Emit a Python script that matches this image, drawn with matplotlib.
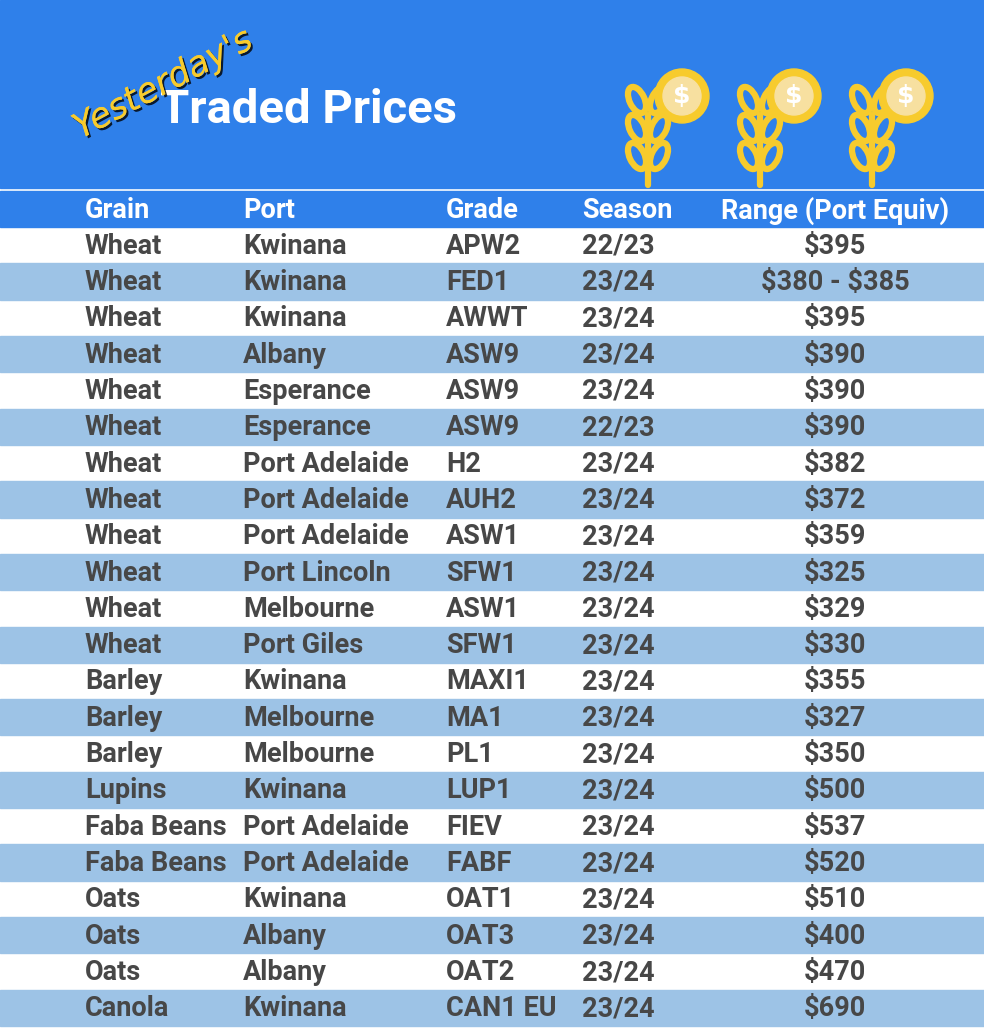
import matplotlib
matplotlib.use("Agg")
import matplotlib.pyplot as plt
from matplotlib.patches import Rectangle, Circle, Ellipse
import matplotlib.patheffects as pe

grain = ["Wheat"]*12 + ["Barley"]*3 + ["Lupins", "Faba Beans", "Faba Beans", "Oats", "Oats", "Oats", "Canola"]
port = ["Kwinana", "Kwinana", "Kwinana", "Albany", "Esperance", "Esperance", "Port Adelaide", "Port Adelaide",
        "Port Adelaide", "Port Lincoln", "Melbourne", "Port Giles", "Kwinana", "Melbourne", "Melbourne",
        "Kwinana", "Port Adelaide", "Port Adelaide", "Kwinana", "Albany", "Albany", "Kwinana"]
grade = ["APW2", "FED1", "AWWT", "ASW9", "ASW9", "ASW9", "H2", "AUH2", "ASW1", "SFW1", "ASW1", "SFW1",
         "MAXI1", "MA1", "PL1", "LUP1", "FIEV", "FABF", "OAT1", "OAT3", "OAT2", "CAN1 EU"]
season = ["22/23", "23/24", "23/24", "23/24", "23/24", "22/23"] + ["23/24"]*16
price = ["$395", "$380 - $385", "$395", "$390", "$390", "$390", "$382", "$372", "$359", "$325", "$329",
         "$330", "$355", "$327", "$350", "$500", "$537", "$520", "$510", "$400", "$470", "$690"]
headers = ["Grain", "Port", "Grade", "Season", "Range (Port Equiv)"]

plt.rcParams["text.parse_math"] = False
W, H = 984, 1028
fig = plt.figure(figsize=(W/100, H/100), dpi=100)
ax = fig.add_axes([0, 0, 1, 1])
ax.set_xlim(0, W); ax.set_ylim(H, 0); ax.axis("off")

BLUE = "#2F80EA"; LIGHT = "#9DC3E6"; TXT = "#474747"; YEL = "#F7CB2D"
ax.add_patch(Rectangle((0, 0), W, 188, color=BLUE))
ax.add_patch(Rectangle((0, 191), W, 36, color=BLUE))
colx = [85, 243, 446, 582]
fp = dict(family="Roboto", weight="bold", fontsize=19.5)
for i, h in enumerate(headers):
    if i < 4:
        ax.text(colx[i], 211, h, color="white", va="center", ha="left", **fp)
    else:
        ax.text(835, 211, h, color="white", va="center", ha="center", **fp)

top = 227; rh = (1026 - 227) / 22
for r in range(22):
    y0 = top + r*rh
    if r % 2 == 1:
        ax.add_patch(Rectangle((0, y0), W, rh, color=LIGHT))
    yc = y0 + rh/2 + 1
    for i, col in enumerate([grain, port, grade, season]):
        ax.text(colx[i], yc, col[r], color=TXT, va="center", ha="left", **fp)
    ax.text(835, yc, price[r], color=TXT, va="center", ha="center", **fp)

ax.text(160, 110, "Traded Prices", color="white", va="center", ha="left", family="Roboto",
        weight="bold", fontsize=34)
ax.text(163, 84, "Yesterday's", color=YEL, va="center", ha="center", style="italic",
        fontsize=25, rotation=28, family="DejaVu Sans",
        path_effects=[pe.withSimplePatchShadow(offset=(1.5, -1.5), shadow_rgbFace="black", alpha=0.8),
                      pe.Normal()])

for cx in [648, 760, 872]:
    ax.plot([cx, cx], [115, 185], color=YEL, lw=4.5, solid_capstyle="round")
    for ly in [100, 128, 156]:
        ax.add_patch(Ellipse((cx-11, ly), 15, 28, angle=-25, fill=False, ec=YEL, lw=4.5))
        ax.add_patch(Ellipse((cx+11, ly), 15, 28, angle=25, fill=False, ec=YEL, lw=4.5))
    ax.add_patch(Circle((cx+34, 96), 27, color=YEL))
    ax.add_patch(Circle((cx+34, 96), 19, color="#F7E0A0"))
    ax.text(cx+34, 96, "$", color="white", ha="center", va="center", fontsize=18, weight="bold")

fig.savefig("out.png", dpi=100)
